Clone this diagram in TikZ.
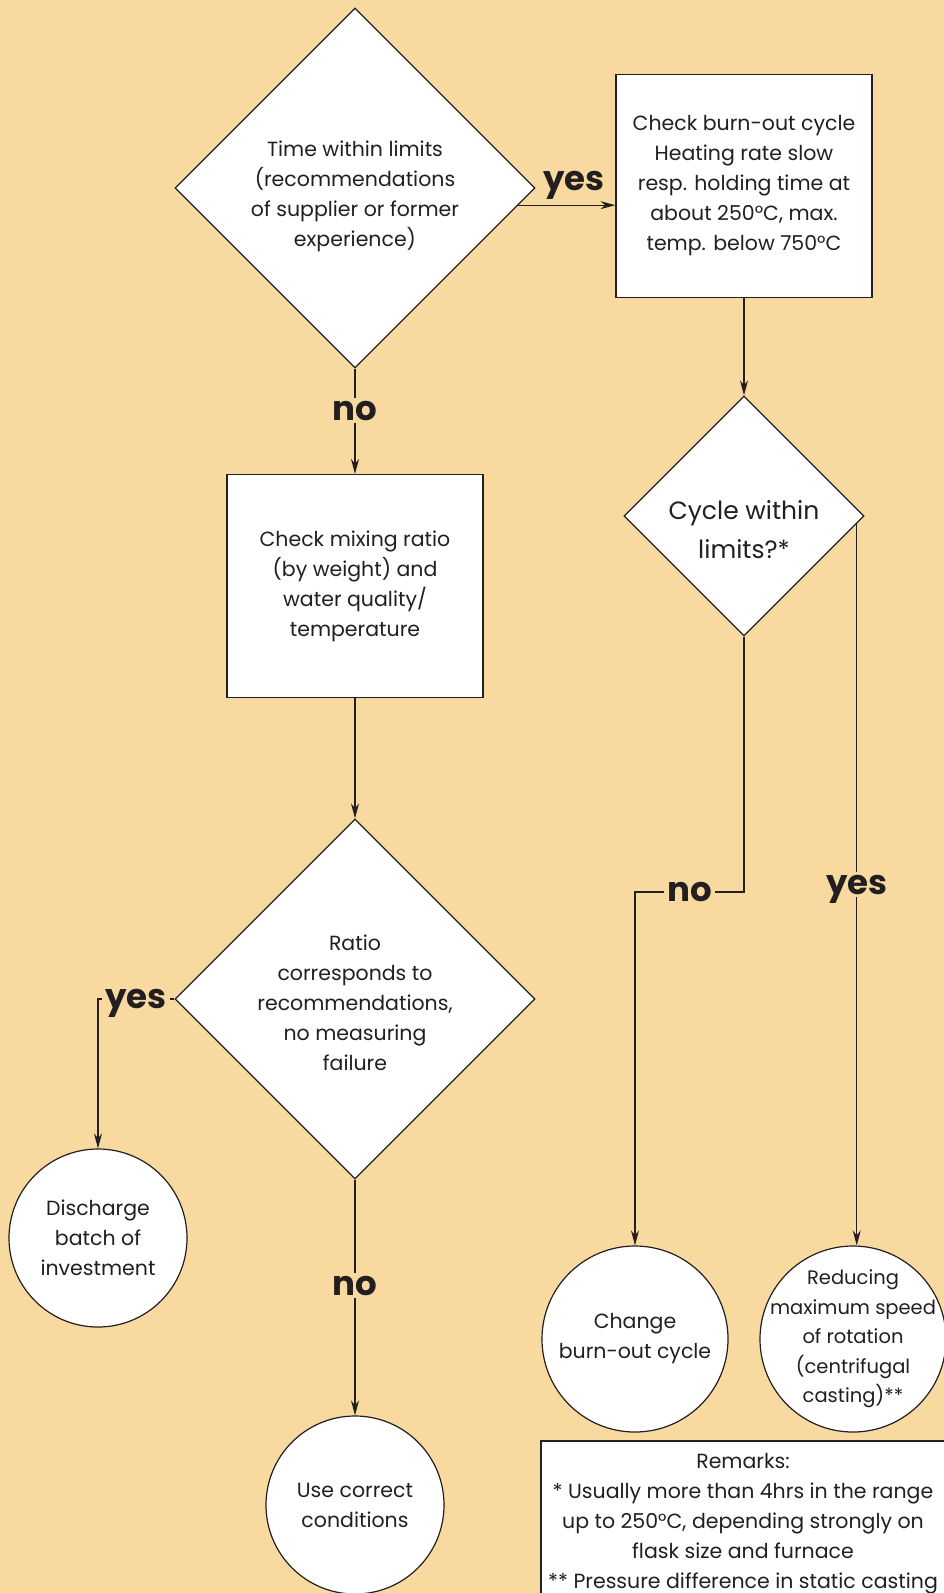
\documentclass[tikz,border=0pt]{standalone}
\usepackage{fontspec}
\setmainfont{Poppins}
\usetikzlibrary{shapes.geometric,arrows.meta}

\definecolor{sand}{HTML}{F8D9A0}
\definecolor{ink}{HTML}{231F20}

\tikzset{
  flow/.style={draw=ink, line width=1.3pt, -{Stealth[length=15pt,width=8pt]}},
  txt/.style={text=ink, align=center, font=\fontsize{20.5}{30}\selectfont},
  decision/.style={diamond, aspect=1, draw=ink, fill=white, line width=1.2pt,
    inner sep=0pt, minimum width=#1, minimum height=#1},
  checkbox/.style={txt, rectangle, draw=ink, fill=white, line width=1.2pt,
    minimum width=256pt, minimum height=223pt},
  outcome/.style={txt, circle, draw=ink, fill=white, line width=1.2pt,
    inner sep=0pt, minimum size=#1},
  answer/.style={text=ink, fill=sand, inner sep=3pt, text depth=0pt,
    font=\bfseries\fontsize{34}{34}\selectfont}
}

\begin{document}
\begin{tikzpicture}[x=1pt,y=-1pt]

  % Page and background
  \useasboundingbox (0,0) rectangle (944,1593);
  \fill[sand] (0,0) rectangle (944,1593);
  \clip (0,0) rectangle (944,1593);

  % Left column: investment checks
  \node[decision=360pt] (time) at (355,188) {};
  \node[txt] (timeText) at (355,196)
    {Time within limits\\(recommendations\\of supplier or former\\experience)};
  \node[checkbox] (mix) at (355,586)
    {Check mixing ratio\\(by weight) and\\water quality/\\temperature};
  \node[decision=360pt] (ratio) at (355,999) {};
  \node[txt] (ratioText) at (355,1003)
    {Ratio\\corresponds to\\recommendations,\\no measuring\\failure};
  \node[outcome=178pt] (discharge) at (98,1238)
    {Discharge\\batch of\\investment};
  \node[outcome=178pt] (correct) at (355,1505)
    {Use correct\\conditions};

  % Right column: burn-out cycle
  \node[checkbox] (burnout) at (744,186)
    {Check burn-out cycle\\Heating rate slow\\resp. holding time at\\about 250°C, max.\\temp. below 750°C};
  \node[decision=240pt] (cycle) at (744,516) {};
  \node[txt, font=\fontsize{25}{39}\selectfont] (cycleText) at (744,530)
    {Cycle within\\limits?*};
  \node[outcome=186pt] (change) at (635,1339)
    {Change\\burn-out cycle};
  \node[outcome=186pt, inner sep=-14pt, font=\fontsize{19.5}{29.5}\selectfont] (speed) at (853,1339)
    {Reducing\\maximum speed\\of rotation\\(centrifugal\\casting)**};

  % Remarks
  \draw[ink, line width=1.2pt, fill=white] (541,1441) rectangle (990,1650);
  \node[txt] (remarks) at (743,1524)
    {Remarks:\\* Usually more than 4hrs in the range\\up to 250°C, depending strongly on\\flask size and furnace\\** Pressure difference in static casting};

  % Connectors
  \draw[flow] (time.-6) -- (time.-6 -| burnout.west);
  \node[answer] (yesA) at (574,181) {yes};
  \draw[flow] (time.south) -- node[answer, pos=0.4] (noA) {no} (mix.north);
  \draw[flow] (mix.south) -- (ratio.north);
  \draw[flow] (ratio.west) -- node[answer] (yesB) {yes} (ratio.west -| discharge.north) -- (discharge.north);
  \draw[flow] (ratio.south) -- node[answer, pos=0.45] (noB) {no} (correct.north);
  \draw[flow] (burnout.south) -- (cycle.north);
  \draw[flow] (cycle.south) -- (744,892) -- node[answer] (noC) {no} (change.north |- 0,892) -- (change.north);
  \draw[flow] (cycle.-4.6) -- node[answer] (yesC) {yes} (cycle.-4.6 |- speed.north);

\end{tikzpicture}
\end{document}
